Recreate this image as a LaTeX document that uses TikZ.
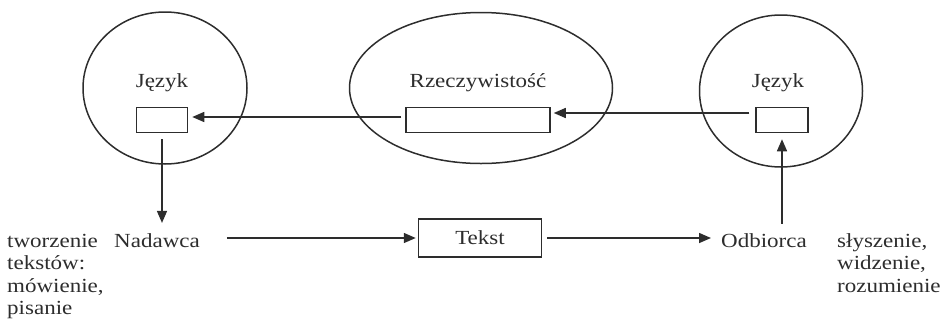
\documentclass[tikz,border=0pt]{standalone}
\usepackage{fontspec}
\setmainfont{Liberation Serif}[FakeStretch=1.15]
\usetikzlibrary{arrows.meta,shapes.geometric}
\definecolor{ink}{RGB}{45,45,45}
\begin{document}
\begin{tikzpicture}[x=1pt,y=-1pt,
  every node/.style={inner sep=0pt, text=ink},
  lbl/.style={font=\fontsize{20}{23}\selectfont, anchor=base},
  side/.style={font=\fontsize{20}{22.5}\selectfont, anchor=base west},
  oval/.style={ellipse, draw=ink, line width=1.5pt},
  slot/.style={rectangle, draw=ink, line width=1.5pt, minimum height=25pt},
  conn/.style={draw=ink, line width=1.5pt, -{Triangle[length=12pt,width=10pt]}}]
\useasboundingbox (0,0) rectangle (940,322);
% ovals
\node[oval, minimum width=164pt, minimum height=152pt] (lc) at (165,88) {};
\node[oval, minimum width=263pt, minimum height=151pt] (mc) at (481,88) {};
\node[oval, minimum width=163pt, minimum height=152pt] (rc) at (781,91) {};
% labels in ovals
\node[lbl] (lj) at (162,87) {Język};
\node[lbl] (rz) at (478,87) {Rzeczywistość};
\node[lbl] (rj) at (778,87) {Język};
% slots
\node[slot, minimum width=51pt] (ls) at (162,120) {};
\node[slot, minimum width=144pt] (ms) at (478,120) {};
\node[slot, minimum width=52pt] (rs) at (782,120) {};
% bottom row
\node[lbl] (nad) at (157,247) {Nadawca};
\node[rectangle, draw=ink, line width=1.5pt, minimum width=123pt, minimum height=38pt, font=\fontsize{20}{23}\selectfont] (tek) at (480,238) {Tekst};
\node[lbl] (odb) at (764,247) {Odbiorca};
\node[side] (tw) at (7,247) {\begin{tabular}[t]{@{}l@{}}tworzenie\\tekstów:\\mówienie,\\pisanie\end{tabular}};
\node[side] (sl) at (837,247) {\begin{tabular}[t]{@{}l@{}}słyszenie,\\widzenie,\\rozumienie\end{tabular}};
% connectors
\draw[conn, shorten <=6pt, shorten >=3pt] ([yshift=7pt]rs.west) -- ([yshift=7pt]ms.east);
\draw[conn, shorten <=4pt, shorten >=4pt] ([yshift=3pt]ms.west) -- ([yshift=3pt]ls.east);
\draw[conn, shorten <=6pt, shorten >=10pt] (ls.south) -- (ls.south |- nad.north);
\draw[conn, shorten <=27pt, shorten >=2pt] (tek.west -| nad.east) -- (tek.west);
\draw[conn, shorten <=5pt, shorten >=10pt] (tek.east) -- (tek.east -| odb.west);
\draw[conn, shorten <=9pt, shorten >=6pt] (rs.south |- odb.north) -- (rs.south);
\end{tikzpicture}
\end{document}
